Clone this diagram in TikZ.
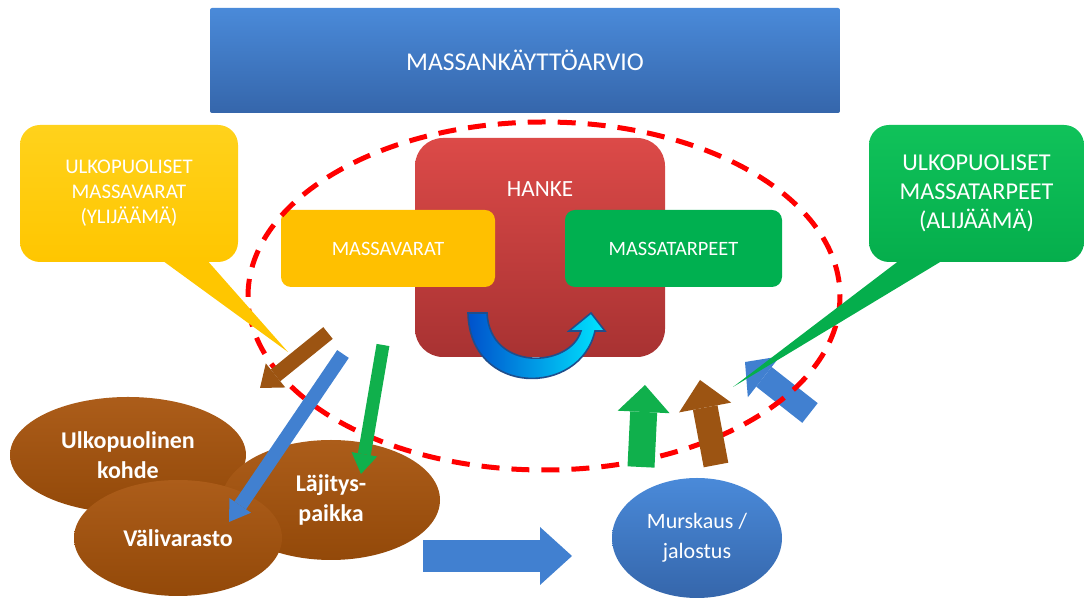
\documentclass[tikz,border=0pt]{standalone}
\usepackage{fontspec}
\setmainfont{Carlito}
\usetikzlibrary{arrows.meta, positioning, calc, shapes.geometric}
\definecolor{plantop}{HTML}{4A8AD9}
\definecolor{planbot}{HTML}{3566AB}
\definecolor{hanketop}{HTML}{DC4A48}
\definecolor{hankebot}{HTML}{A83232}
\definecolor{varat}{HTML}{FFC000}
\definecolor{tarpeet}{HTML}{00B050}
\definecolor{calltop}{HTML}{FFD21C}
\definecolor{callbot}{HTML}{FFC600}
\definecolor{greentop}{HTML}{10C25A}
\definecolor{greenbot}{HTML}{05AE4C}
\definecolor{browntop}{HTML}{AC5D1A}
\definecolor{brownbot}{HTML}{934909}
\definecolor{arrowbrown}{HTML}{9C5412}
\definecolor{arrowblue}{HTML}{4180D0}
\definecolor{arrowgreen}{HTML}{10B04C}
\definecolor{bendline}{HTML}{1F4E8C}

\begin{document}
\begin{tikzpicture}[x=0.5pt, y=-0.5pt,
  plan box/.style={rectangle, rounded corners=1pt, minimum width=315pt, minimum height=52.5pt, top color=plantop, bottom color=planbot, text=white, font=\fontsize{12.8}{15}\selectfont},
  hanke box/.style={rectangle, rounded corners=14pt, minimum width=125pt, minimum height=109.5pt, top color=hanketop, bottom color=hankebot},
  part box/.style={rectangle, rounded corners=5pt, minimum height=38.5pt, text=white, font=\fontsize{10.2}{12}\selectfont},
  call box/.style={rectangle, rounded corners=10pt, minimum height=68.5pt, text=white, align=center},
  site/.style={ellipse, inner sep=0pt, top color=browntop, bottom color=brownbot, text=white, align=center, font=\bfseries\fontsize{12}{15}\selectfont},
  block/.style n args={3}{line width=#1, -{Triangle[length=#2, width=#3, line width=0pt]}},
]

  \useasboundingbox (0,0) rectangle (1084,603);

  % Top box
  \node[plan box] (arvio) at (525,60.5) {MASSANKÄYTTÖARVIO};

  % Project
  \node[hanke box] (hanke) at (540,247.5) {};
  \node[text=white, font=\fontsize{11.6}{14}\selectfont] (hankename) at (540,189) {HANKE};
  \node[part box, fill=varat, minimum width=107pt] (varat) at (388,248.5) {MASSAVARAT};
  \node[part box, fill=tarpeet, minimum width=108.5pt] (tarpeet) at (673.5,248.5) {MASSATARPEET};

  % Bend arrow inside the project
  \path[draw=bendline, line width=0.8pt, left color=blue!60!cyan!80!black, right color=cyan!90!blue]
    (468,313) -- (487,313) .. controls (490,372) and (570,368) .. (581,331)
    -- (569,331) -- (591,313) -- (605,331) -- (595,331)
    .. controls (580,397) and (470,397) .. (468,313) -- cycle;

  % Sites
  \node[site, minimum width=118pt, minimum height=58pt] (kohde) at (128,455) {Ulkopuolinen\\kohde};
  \node[site, minimum width=109pt, minimum height=60pt] (lajitys) at (331,500) {Läjitys-\\paikka};
  \node[site, minimum width=104pt, minimum height=58pt] (vali) at (178,538) {Välivarasto};
  \node[ellipse, inner sep=0pt, minimum width=85pt, minimum height=60pt, top color=plantop, bottom color=planbot, text=white, align=center, font=\fontsize{11}{15}\selectfont] (murskaus) at (697,538) {Murskaus /\\jalostus};

  % Arrow ends
  \coordinate (b1) at (328,333);  \coordinate (b2) at (260,388);
  \coordinate (l1) at (343,354);  \coordinate (l2) at (229,522);
  \coordinate (g1) at (383,345);  \coordinate (g2) at (361,474);
  \coordinate (u1) at (641,467);  \coordinate (u2) at (645,385);
  \coordinate (r1) at (716,465);  \coordinate (r2) at (700,380);
  \coordinate (s1) at (810,413);  \coordinate (s2) at (745,362);
  \coordinate (m1) at (423,556);  \coordinate (m2) at (572,556);

  \draw[block={12.5pt}{12pt}{26pt}, arrowblue] (s1) -- (s2);

  % Project boundary
  \draw[red, line width=2.5pt, dash pattern=on 9pt off 6pt] (544,296) ellipse [x radius=296, y radius=174];

  % Arrows
  \draw[block={7.5pt}{10pt}{15.5pt}, arrowbrown] (b1) -- (b2);
  \draw[block={7pt}{10pt}{13pt}, arrowblue] (l1) -- (l2);
  \draw[block={6.5pt}{10pt}{13pt}, arrowgreen] (g1) -- (g2);
  \draw[block={13.5pt}{13.5pt}{26pt}, arrowgreen] (u1) -- (u2);
  \draw[block={12.5pt}{14pt}{26.5pt}, arrowbrown] (r1) -- (r2);
  \draw[block={16pt}{16pt}{29pt}, arrowblue] (m1) -- (m2);

  % Callouts
  \fill[callbot] (148,250) -- (198,250) -- (288,352) -- cycle;
  \node[call box, top color=calltop, bottom color=callbot, minimum width=109pt, font=\fontsize{10.4}{12.5}\selectfont] (ulkovarat) at (129,193.5) {ULKOPUOLISET\\MASSAVARAT\\(YLIJÄÄMÄ)};
  \fill[greenbot] (913,250) -- (960,250) -- (733,387) -- cycle;
  \node[call box, top color=greentop, bottom color=greenbot, minimum width=107.5pt, font=\fontsize{12.1}{14.5}\selectfont] (ulkotarpeet) at (976.5,193.5) {ULKOPUOLISET\\MASSATARPEET\\(ALIJÄÄMÄ)};

\end{tikzpicture}
\end{document}
